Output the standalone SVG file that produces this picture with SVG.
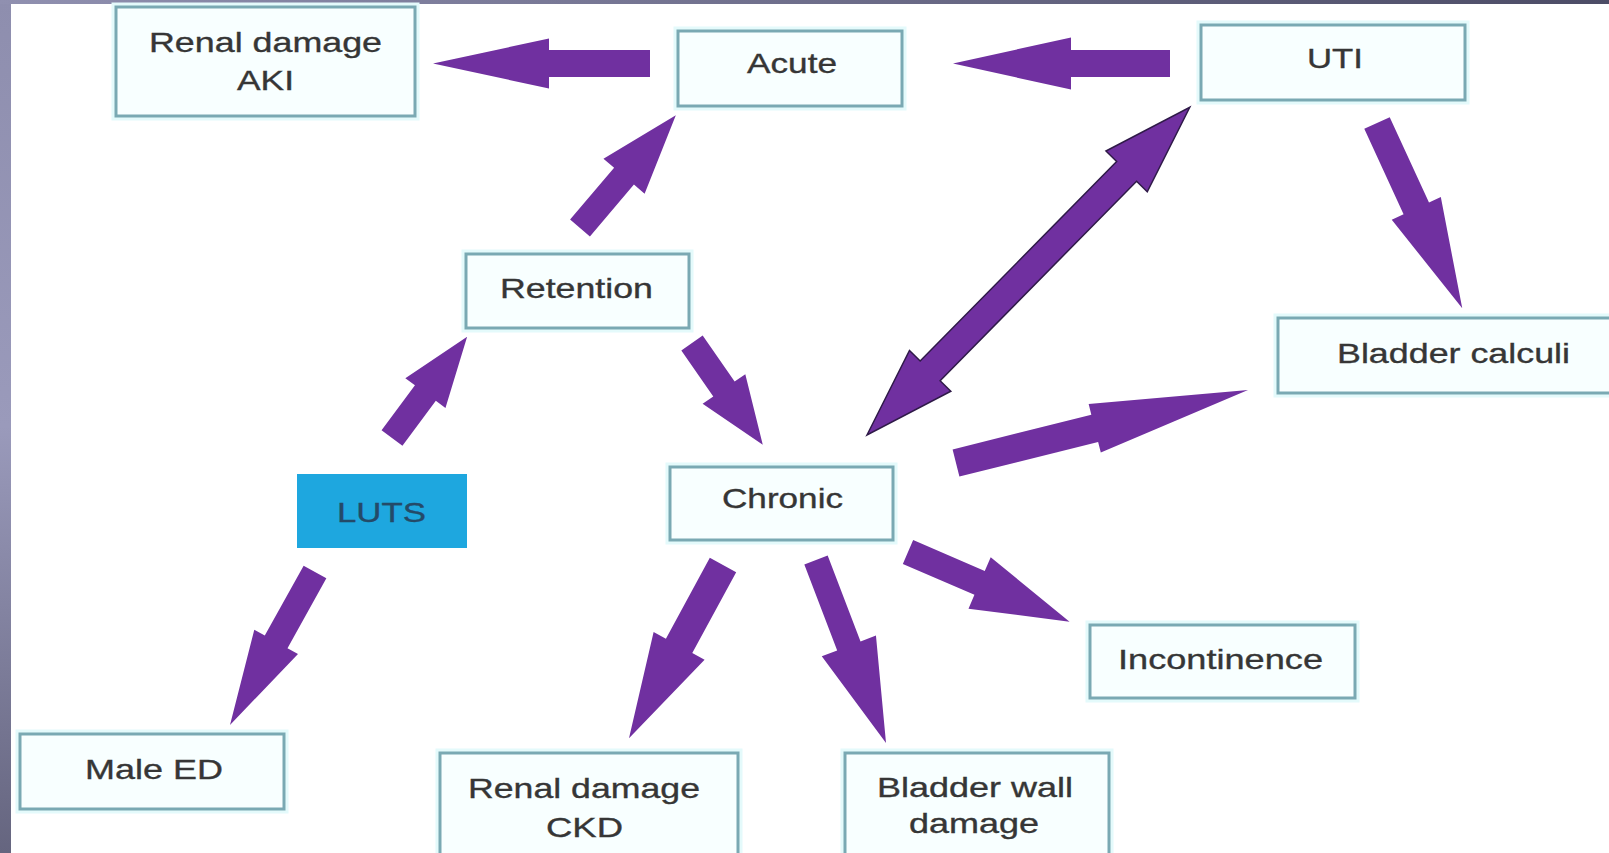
<svg xmlns="http://www.w3.org/2000/svg" width="1609" height="853" viewBox="0 0 1609 853">
<defs>
<linearGradient id="gl" x1="0" y1="0" x2="0" y2="1">
<stop offset="0" stop-color="#8e8eae"/>
<stop offset="0.5" stop-color="#9a9abb"/>
<stop offset="1" stop-color="#65657f"/>
</linearGradient>
<linearGradient id="gt" x1="0" y1="0" x2="1" y2="0">
<stop offset="0" stop-color="#9090b0"/>
<stop offset="1" stop-color="#4c4c66"/>
</linearGradient>
<style>
.box{fill:#f8ffff;stroke:#7aa9b3;stroke-width:3}
.halo{fill:none;stroke:#e4fafb;stroke-width:9}
.t{font-family:"Liberation Sans",Arial,sans-serif;font-size:28px;fill:#363636;stroke:#363636;stroke-width:0.35}
.arr{fill:#7030a0}
.arr2{fill:#7030a0;stroke:#2f1a48;stroke-width:1.5;stroke-linejoin:miter}
</style>
</defs>
<rect x="0" y="0" width="1609" height="853" fill="#ffffff"/>
<rect x="0" y="0" width="11" height="853" fill="url(#gl)"/>
<rect x="0" y="0" width="1609" height="4" fill="url(#gt)"/>

<g id="connectors">
<polygon class="arr" transform="translate(650,63.5) rotate(180)" points="0,-13.5 101,-13.5 101,-25 217,0 101,25 101,13.5 0,13.5"/>
<polygon class="arr" transform="translate(1170,63.5) rotate(180)" points="0,-13.5 99,-13.5 99,-26 217,0 99,26 99,13.5 0,13.5"/>
<polygon class="arr" transform="translate(580,228) rotate(-49.65)" points="0,-13 68,-13 68,-27 148,0 68,27 68,13 0,13"/>
<polygon class="arr" transform="translate(392,438) rotate(-53.4)" points="0,-13 56,-13 56,-25 126,0 56,25 56,13 0,13"/>
<polygon class="arr" transform="translate(692,343) rotate(55.2)" points="0,-13 56,-13 56,-26 124,0 56,26 56,13 0,13"/>
<polygon class="arr2" transform="translate(867,435) rotate(-45.44)" points="0,0 90,-29 90,-14 370,-14 370,-29 460,0 370,29 370,14 90,14 90,29"/>
<polygon class="arr" transform="translate(1377,123) rotate(65.3)" points="0,-14 94,-14 94,-27 204,0 94,27 94,14 0,14"/>
<polygon class="arr" transform="translate(956,463) rotate(-14.04)" points="0,-14 143,-14 143,-25 301,0 143,25 143,14 0,14"/>
<polygon class="arr" transform="translate(315,572) rotate(119.06)" points="0,-13 80,-13 80,-25 175,0 80,25 80,13 0,13"/>
<polygon class="arr" transform="translate(723,565) rotate(118.5)" points="0,-15 92,-15 92,-29 197,0 92,29 92,15 0,15"/>
<polygon class="arr" transform="translate(816,560) rotate(69.07)" points="0,-12.5 92,-12.5 92,-29 196,0 92,29 92,12.5 0,12.5"/>
<polygon class="arr" transform="translate(908,552) rotate(23.37)" points="0,-13 78,-13 78,-28 176,0 78,28 78,13 0,13"/>
</g>

<g id="node-aki">
<rect class="halo" x="116" y="7" width="299" height="109"/>
<rect class="box" x="116" y="7" width="299" height="109"/>
<text class="t" x="149" y="52" textLength="233" lengthAdjust="spacingAndGlyphs">Renal damage</text>
<text class="t" x="237" y="90" textLength="57" lengthAdjust="spacingAndGlyphs">AKI</text>
</g>
<g id="node-acute">
<rect class="halo" x="678" y="31" width="224" height="75"/>
<rect class="box" x="678" y="31" width="224" height="75"/>
<text class="t" x="747" y="73" textLength="90" lengthAdjust="spacingAndGlyphs">Acute</text>
</g>
<g id="node-uti">
<rect class="halo" x="1201" y="25" width="264" height="75"/>
<rect class="box" x="1201" y="25" width="264" height="75"/>
<text class="t" x="1307" y="68" textLength="56" lengthAdjust="spacingAndGlyphs">UTI</text>
</g>
<g id="node-retention">
<rect class="halo" x="466" y="254" width="223" height="74"/>
<rect class="box" x="466" y="254" width="223" height="74"/>
<text class="t" x="500" y="298" textLength="153" lengthAdjust="spacingAndGlyphs">Retention</text>
</g>
<g id="node-calculi">
<rect class="halo" x="1278" y="318" width="340" height="75"/>
<rect class="box" x="1278" y="318" width="340" height="75"/>
<text class="t" x="1337" y="363" textLength="233" lengthAdjust="spacingAndGlyphs">Bladder calculi</text>
</g>
<g id="node-luts">
<rect x="297" y="474" width="170" height="74" fill="#1ea7df"/>
<text class="t" x="337" y="522" textLength="89" lengthAdjust="spacingAndGlyphs" style="fill:#244a68;stroke:#244a68">LUTS</text>
</g>
<g id="node-chronic">
<rect class="halo" x="670" y="467" width="223" height="73"/>
<rect class="box" x="670" y="467" width="223" height="73"/>
<text class="t" x="722" y="508" textLength="121" lengthAdjust="spacingAndGlyphs">Chronic</text>
</g>
<g id="node-incontinence">
<rect class="halo" x="1090" y="625" width="265" height="73"/>
<rect class="box" x="1090" y="625" width="265" height="73"/>
<text class="t" x="1118" y="669" textLength="205" lengthAdjust="spacingAndGlyphs">Incontinence</text>
</g>
<g id="node-male-ed">
<rect class="halo" x="20" y="734" width="264" height="75"/>
<rect class="box" x="20" y="734" width="264" height="75"/>
<text class="t" x="85" y="779" textLength="138" lengthAdjust="spacingAndGlyphs">Male ED</text>
</g>
<g id="node-ckd">
<rect class="halo" x="440" y="753" width="298" height="110"/>
<rect class="box" x="440" y="753" width="298" height="110"/>
<text class="t" x="468" y="798" textLength="232" lengthAdjust="spacingAndGlyphs">Renal damage</text>
<text class="t" x="546" y="837" textLength="77" lengthAdjust="spacingAndGlyphs">CKD</text>
</g>
<g id="node-wall">
<rect class="halo" x="845" y="753" width="264" height="110"/>
<rect class="box" x="845" y="753" width="264" height="110"/>
<text class="t" x="877" y="797" textLength="196" lengthAdjust="spacingAndGlyphs">Bladder wall</text>
<text class="t" x="909" y="833" textLength="130" lengthAdjust="spacingAndGlyphs">damage</text>
</g>
</svg>
